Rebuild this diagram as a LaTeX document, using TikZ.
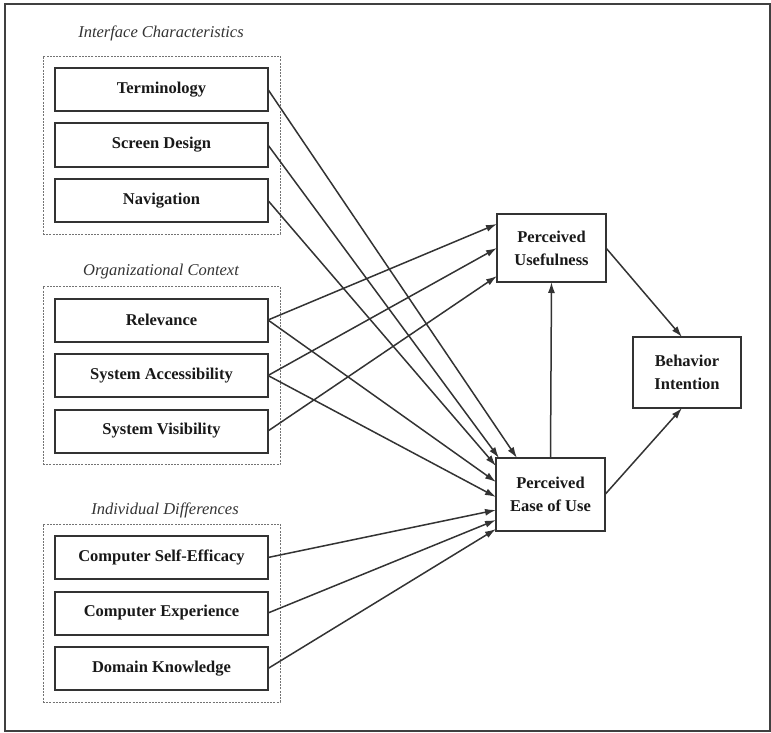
\documentclass[tikz,border=0pt]{standalone}
\usepackage{fontspec}
\setmainfont{Liberation Serif}
\usetikzlibrary{positioning}
\usetikzlibrary{fit}
\usetikzlibrary{arrows.meta}
\tikzset{
	factor/.style={draw=black!80, line width=2pt, rectangle, inner sep=2pt, outer sep=0pt, minimum width=213pt, minimum height=43pt, font=\fontsize{16.5}{20}\selectfont\bfseries, text=black!90},
	construct/.style={draw=black!80, line width=1.8pt, rectangle, align=center, inner sep=2pt, outer sep=0pt, minimum width=109pt, font=\fontsize{16.5}{23}\selectfont\bfseries, text=black!90},
	% dotted frames round the three groups of factors
	group/.style={draw=black!55, dash pattern=on 2pt off 1.2pt, line width=0.7pt, inner sep=12pt},
	grouptitle/.style={font=\fontsize{16.5}{20}\selectfont\itshape, text=black!80},
	frame/.style={draw=black!75, line width=2pt},
}
\begin{document}
\begin{tikzpicture}[x=1pt, y=1pt, node distance=12.5pt]
	\useasboundingbox (0,0) rectangle (771,-733);
	\draw [frame] (5,-4) rectangle (770,-731);
	
	% interface characteristics
	\node (term) [factor] at (161.5,-89.5) {Terminology};
	\node (screen) [factor, below=of term] {Screen Design};
	\node (navi) [factor, below=of screen] {Navigation};
	\node (ifc) [group, fit=(term)(navi)] {};
	\node (ifctitle) [grouptitle] at (161,-33) {Interface Characteristics};
	
	% organizational context
	\node (relev) [factor] at (161.5,-320) {Relevance};
	\node (access) [factor, below=of relev] {System Accessibility};
	\node (visib) [factor, below=of access] {System Visibility};
	\node (org) [group, fit=(relev)(visib)] {};
	\node (orgtitle) [grouptitle] at (161,-272) {Organizational Context};
	
	% individual differences
	\node (efficacy) [factor] at (161.5,-557.5) {Computer Self-Efficacy};
	\node (exper) [factor, below=of efficacy] {Computer Experience};
	\node (domain) [factor, below=of exper] {Domain Knowledge};
	\node (ind) [group, fit=(efficacy)(domain)] {};
	\node (indtitle) [grouptitle] at (165,-510) {Individual Differences};
	
	\node (pu) [construct, minimum height=68pt] at (551.5,-248) {Perceived\\Usefulness};
	\node (peou) [construct, minimum height=73pt] at (550.5,-494.5) {Perceived\\Ease of Use};
	\node (bi) [construct, minimum width=108pt, minimum height=71pt] at (687,-372.5) {Behavior\\Intention};
	
	\begin{scope}[line width=1.5pt, black!80, -{Latex[length=11pt, width=7pt]}]
		\draw (term.east) -- ([xshift=21pt]peou.north west);
		\draw (screen.east) -- ([xshift=3pt]peou.north west);
		\draw (navi.east) -- ([yshift=-8pt]peou.north west);
		\draw (relev.east) -- ([yshift=-24pt]peou.north west);
		\draw (access.east) -- ([yshift=-39pt]peou.north west);
		\draw (efficacy.east) -- ([yshift=-52pt]peou.north west);
		\draw (exper.east) -- ([yshift=-62pt]peou.north west);
		\draw (domain.east) -- ([yshift=2pt]peou.south west);
		
		\draw (relev.east) -- ([yshift=-10pt]pu.north west);
		\draw (access.east) -- ([yshift=-34pt]pu.north west);
		\draw (visib.east) -- ([yshift=-62pt]pu.north west);
		
		\draw (peou.north) -- (pu.south);
		\draw (pu.east) -- ([xshift=-5pt]bi.north);
		\draw (peou.east) -- ([xshift=-5pt]bi.south);
	\end{scope}
\end{tikzpicture}
\end{document}
